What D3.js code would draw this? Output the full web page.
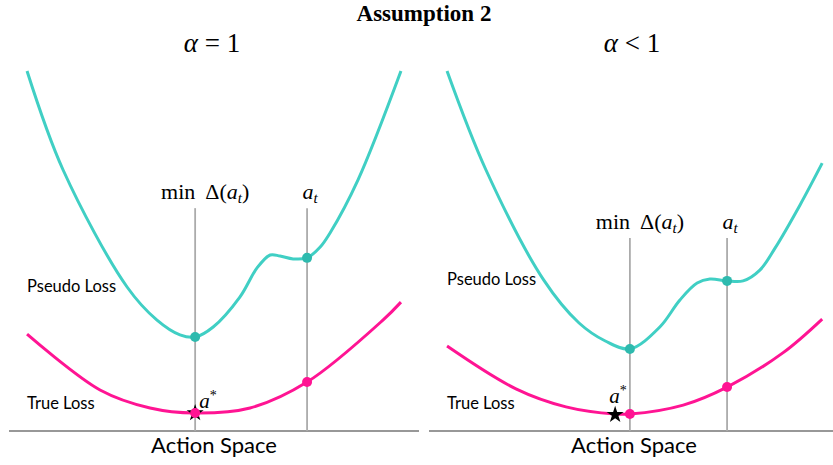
<!DOCTYPE html>
<html>
<head>
<meta charset="utf-8">
<script src="https://cdn.jsdelivr.net/npm/d3@7/dist/d3.min.js"></script>
<style>
  html, body { margin: 0; padding: 0; background: #fff; }
  svg { display: block; }
</style>
</head>
<body>
<svg id="chart" width="833" height="465"></svg>
<script>
// ---------------- data ----------------
const chartTitle = "Assumption 2";
const panelTitles = [["α", " = 1"], ["α", " < 1"]];
const curveLabels = ["Pseudo Loss", "True Loss"];
const xAxisLabel = "Action Space";

// Left panel (alpha = 1)
const pseudoLeftX = [0.44, 1.32, 2.88, 3.61, 4.17, 4.54, 4.98, 5.63, 6.05, 6.37, 6.61, 6.93, 7.27, 7.59, 7.83, 8.51, 9.56];
const pseudoLeftY = [10.0, 7.25, 4.0, 3.08, 2.67, 2.61, 2.89, 3.72, 4.53, 4.89, 4.86, 4.78, 4.81, 5.11, 5.5, 6.97, 10.0];
const trueLeftX = [0.44, 2.22, 3.44, 4.54, 5.88, 7.27, 9.12, 9.56];
const trueLeftY = [2.69, 1.14, 0.64, 0.50, 0.64, 1.36, 3.08, 3.58];

// Right panel (alpha < 1)
const pseudoRightX = [0.44, 1.39, 2.8, 3.66, 4.3, 4.9, 5.63, 6.12, 6.54, 6.85, 7.27, 7.66, 8.07, 8.44, 9.05, 9.59];
const pseudoRightY = [10.0, 7.25, 4.19, 3.0, 2.5, 2.28, 2.89, 3.64, 4.11, 4.22, 4.17, 4.17, 4.47, 5.08, 6.28, 7.44];
const trueRightX = [0.44, 2.12, 3.34, 4.54, 4.9, 6.2, 7.27, 8.63, 9.59];
const trueRightY = [2.36, 1.17, 0.67, 0.47, 0.47, 0.72, 1.22, 2.17, 3.11];

// Marked actions: [min Delta(a_t), a_t]
const markedX = [[4.54, 7.27], [4.9, 7.27]];
const pseudoDotY = [[2.61, 4.81], [2.28, 4.17]];
const trueDotY = [[0.50, 1.36], [0.47, 1.22]];
const guideTopY = [6.19, 5.36];
const optimumX = [4.54, 4.54];
const optimumY = [0.50, 0.45];

// ---------------- drawing ----------------
const svg = d3.select("#chart");
const teal = "#40cfc4", tealDot = "#2ebaae", pink = "#ff1493", guide = "#ababab";
const serif = "'Liberation Serif', 'Times New Roman', serif";
const sans = "Lato, 'Open Sans', sans-serif";

svg.append("text")
  .attr("x", 424).attr("y", 21)
  .attr("text-anchor", "middle")
  .attr("font-family", serif).attr("font-weight", "bold").attr("font-size", 23)
  .text(chartTitle);

const panelX0 = [9, 429];
const panelW = 410;
const y = d3.scaleLinear().domain([0, 10]).range([431, 71]);

const panels = [
  {pX: pseudoLeftX, pY: pseudoLeftY, tX: trueLeftX, tY: trueLeftY},
  {pX: pseudoRightX, pY: pseudoRightY, tX: trueRightX, tY: trueRightY}
];

panels.forEach((p, i) => {
  const x = d3.scaleLinear().domain([0, 10]).range([panelX0[i], panelX0[i] + panelW]);
  const g = svg.append("g");
  const cx = panelX0[i] + 203;

  // subplot title
  const t = g.append("text")
    .attr("x", cx).attr("y", 52)
    .attr("text-anchor", "middle")
    .attr("font-family", serif).attr("font-size", 27);
  t.append("tspan").attr("font-style", "italic").text(panelTitles[i][0]);
  t.append("tspan").text(panelTitles[i][1]);

  // x axis line
  g.append("line")
    .attr("x1", x(0)).attr("x2", x(10))
    .attr("y1", y(0)).attr("y2", y(0))
    .attr("stroke", "#333").attr("stroke-width", 1.2);

  g.append("text")
    .attr("x", cx + 2).attr("y", 453)
    .attr("text-anchor", "middle")
    .attr("font-family", sans).attr("font-size", 22)
    .text(xAxisLabel);

  // guide lines
  markedX[i].forEach(mx => {
    g.append("line")
      .attr("x1", x(mx)).attr("x2", x(mx))
      .attr("y1", y(guideTopY[i])).attr("y2", y(0))
      .attr("stroke", guide).attr("stroke-width", 1.8);
  });

  // guide labels
  const labY = y(guideTopY[i]) - 9;
  const l1 = g.append("text")
    .attr("x", x(markedX[i][0]) + 10).attr("y", labY)
    .attr("text-anchor", "middle")
    .attr("font-family", serif).attr("font-size", 22);
  l1.append("tspan").text("min");
  l1.append("tspan").attr("dx", 10).text("Δ(");
  l1.append("tspan").attr("font-style", "italic").text("a");
  l1.append("tspan").attr("font-style", "italic").attr("font-size", 15).attr("dy", 4).text("t");
  l1.append("tspan").attr("dy", -4).text(")");

  const l2 = g.append("text")
    .attr("x", x(markedX[i][1]) + 3).attr("y", labY)
    .attr("text-anchor", "middle")
    .attr("font-family", serif).attr("font-size", 22);
  l2.append("tspan").attr("font-style", "italic").text("a");
  l2.append("tspan").attr("font-style", "italic").attr("font-size", 15).attr("dy", 4).text("t");

  // curves
  const line = d3.line().x(d => x(d[0])).y(d => y(d[1])).curve(d3.curveCatmullRom.alpha(0.5));
  g.append("path")
    .datum(d3.zip(p.pX, p.pY))
    .attr("d", line).attr("fill", "none")
    .attr("stroke", teal).attr("stroke-width", 3);
  g.append("path")
    .datum(d3.zip(p.tX, p.tY))
    .attr("d", line).attr("fill", "none")
    .attr("stroke", pink).attr("stroke-width", 3);

  // curve labels
  g.append("text")
    .attr("x", x(0.44)).attr("y", i === 0 ? 292 : 285)
    .attr("font-family", sans).attr("font-size", 16.5)
    .text(curveLabels[0]);
  g.append("text")
    .attr("x", x(0.44)).attr("y", 409)
    .attr("font-family", sans).attr("font-size", 16.5)
    .text(curveLabels[1]);

  // optimum star
  const star = d3.symbol().type(d3.symbolStar).size(90);
  g.append("path")
    .attr("d", star())
    .attr("transform", `translate(${x(optimumX[i])},${y(optimumY[i])})`)
    .attr("fill", "#000");

  // a* label
  const as = g.append("text")
    .attr("x", i === 0 ? x(optimumX[i]) + 4 : x(optimumX[i]) - 6)
    .attr("y", i === 0 ? 408 : 403)
    .attr("font-family", serif).attr("font-size", 21);
  as.append("tspan").attr("font-style", "italic").text("a");
  as.append("tspan").attr("font-size", 14).attr("dy", -8).text("*");

  // dots
  markedX[i].forEach((mx, k) => {
    g.append("circle").attr("cx", x(mx)).attr("cy", y(pseudoDotY[i][k])).attr("r", 5).attr("fill", tealDot);
    g.append("circle").attr("cx", x(mx)).attr("cy", y(trueDotY[i][k])).attr("r", 5).attr("fill", pink);
  });
});
</script>
</body>
</html>
